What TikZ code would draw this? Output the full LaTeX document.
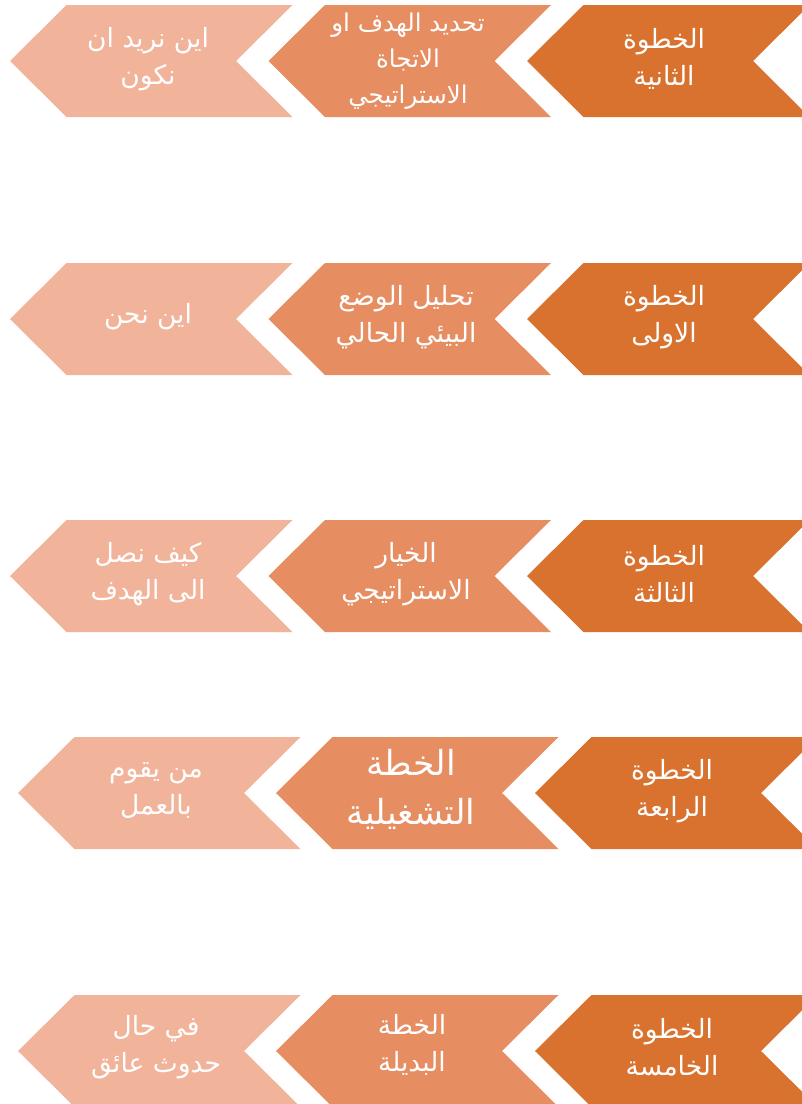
\documentclass[tikz,border=0pt]{standalone}
\usepackage{fontspec}
\newfontfamily\arabicfont[Script=Arabic]{DejaVu Sans}
\TeXXeTstate=1
\definecolor{dcol}{RGB}{216,114,46}
\definecolor{mcol}{RGB}{230,141,98}
\definecolor{lcol}{RGB}{242,179,155}
\newcommand{\ar}[1]{\beginR #1\endR}
\newcommand{\stepshape}[3]{\fill [#1] (#2,#3+56) -- ++(56.5,-56) -- ++(226,0) -- ++(-56.5,56) -- ++(56.5,56) -- ++(-226,0) -- cycle;}
\tikzset{every picture/.style={x=1pt,y=-1pt}}
\tikzset{lbl/.style={text=white,align=center,inner sep=0pt,font=\arabicfont\fontsize{26.5}{37}\selectfont}}
\tikzset{small/.style={font=\arabicfont\fontsize{24.5}{36}\selectfont}}
\tikzset{big/.style={font=\arabicfont\fontsize{34.5}{49}\selectfont}}
\begin{document}
\begin{tikzpicture}
\useasboundingbox (0,0) rectangle (802,1104);
\clip (0,0) rectangle (802,1104);

\stepshape{lcol}{10}{5}
\stepshape{mcol}{268.5}{5}
\stepshape{dcol}{527}{5}

\stepshape{lcol}{10}{263}
\stepshape{mcol}{268.5}{263}
\stepshape{dcol}{527}{263}

\stepshape{lcol}{10}{520}
\stepshape{mcol}{268.5}{520}
\stepshape{dcol}{527}{520}

\stepshape{lcol}{18}{737}
\stepshape{mcol}{276}{737}
\stepshape{dcol}{535}{737}

\stepshape{lcol}{18}{995}
\stepshape{mcol}{276}{995}
\stepshape{dcol}{535}{995}


\node [lbl] (d1) at (664,59) {\ar{الخطوة}\\\ar{الثانية}};
\node [lbl,small] (m1) at (408,61) {\ar{تحديد الهدف او}\\\ar{الاتجاة}\\\ar{الاستراتيجي}};
\node [lbl] (l1) at (148,59) {\ar{اين نريد ان}\\\ar{نكون}};

\node [lbl] (d2) at (664,317) {\ar{الخطوة}\\\ar{الاولى}};
\node [lbl] (m2) at (406,317) {\ar{تحليل الوضع}\\\ar{البيئي الحالي}};
\node [lbl] (l2) at (148,317) {\ar{اين نحن}};

\node [lbl] (d3) at (664,574) {\ar{الخطوة}\\\ar{الثالثة}};
\node [lbl] (m3) at (406,574) {\ar{الخيار}\\\ar{الاستراتيجي}};
\node [lbl] (l3) at (148,574) {\ar{كيف نصل}\\\ar{الى الهدف}};

\node [lbl] (d4) at (672,791) {\ar{الخطوة}\\\ar{الرابعة}};
\node [lbl,big] (m4) at (411,789) {\ar{الخطة}\\\ar{التشغيلية}};
\node [lbl] (l4) at (156,791) {\ar{من يقوم}\\\ar{بالعمل}};

\node [lbl] (d5) at (672,1047) {\ar{الخطوة}\\\ar{الخامسة}};
\node [lbl] (m5) at (412,1045) {\ar{الخطة}\\\ar{البديلة}};
\node [lbl] (l5) at (156,1047) {\ar{في حال}\\\ar{حدوث عائق}};
\end{tikzpicture}
\end{document}
